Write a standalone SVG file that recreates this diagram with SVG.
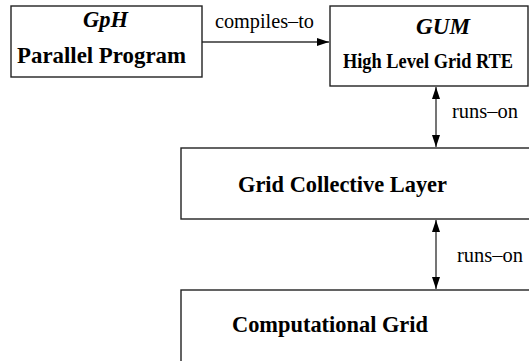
<svg xmlns="http://www.w3.org/2000/svg" width="529" height="361" viewBox="0 0 529 361">
<defs>
<marker id="ah" viewBox="0 0 12 8" refX="12" refY="4" markerWidth="12" markerHeight="8" markerUnits="userSpaceOnUse" orient="auto-start-reverse">
<path d="M0,0 L12,4 L0,8 Z" fill="#000"/>
</marker>
<style>
.box{fill:#fff;stroke:#222;stroke-width:1.4}
.conn{stroke:#666;stroke-width:1.8;fill:none}
text{font-family:'Liberation Serif','Times New Roman',Times,serif;fill:#000}
.b{font-weight:bold}
.bi{font-weight:bold;font-style:italic}
</style>
</defs>
<rect width="529" height="361" fill="#fff"/>
<g id="connectors">
<line class="conn" x1="202" y1="42" x2="329" y2="42" marker-end="url(#ah)"/>
<line class="conn" x1="436" y1="87" x2="436" y2="147" marker-start="url(#ah)" marker-end="url(#ah)"/>
<line class="conn" x1="436" y1="220" x2="436" y2="289" marker-start="url(#ah)" marker-end="url(#ah)"/>
<text font-family="Liberation Serif, serif" x="215" y="28" font-size="20.5" textLength="99" lengthAdjust="spacingAndGlyphs">compiles–to</text>
<text font-family="Liberation Serif, serif" x="452" y="118" font-size="20.5" textLength="66" lengthAdjust="spacingAndGlyphs">runs–on</text>
<text font-family="Liberation Serif, serif" x="457" y="262" font-size="20.5" textLength="66" lengthAdjust="spacingAndGlyphs">runs–on</text>
</g>
<g id="gph">
<rect class="box" x="11" y="6" width="191" height="71"/>
<text class="bi" font-family="Liberation Serif, serif" x="83" y="27" font-size="22.5" textLength="45" lengthAdjust="spacingAndGlyphs">GpH</text>
<text class="b" font-family="Liberation Serif, serif" x="17" y="63" font-size="22.5" textLength="169" lengthAdjust="spacingAndGlyphs">Parallel Program</text>
</g>
<g id="gum">
<rect class="box" x="330" y="6" width="198" height="80"/>
<text class="bi" font-family="Liberation Serif, serif" x="416" y="34" font-size="23" textLength="54" lengthAdjust="spacingAndGlyphs">GUM</text>
<text class="b" font-family="Liberation Serif, serif" x="343" y="68" font-size="20" textLength="170" lengthAdjust="spacingAndGlyphs">High Level Grid RTE</text>
</g>
<g id="gcl">
<rect class="box" x="181" y="148" width="360" height="71"/>
<text class="b" font-family="Liberation Serif, serif" x="238" y="192" font-size="22.4" textLength="209" lengthAdjust="spacingAndGlyphs">Grid Collective Layer</text>
</g>
<g id="cgrid">
<rect class="box" x="181" y="290" width="360" height="90"/>
<text class="b" font-family="Liberation Serif, serif" x="232" y="332" font-size="22.4" textLength="196" lengthAdjust="spacingAndGlyphs">Computational Grid</text>
</g>
</svg>
